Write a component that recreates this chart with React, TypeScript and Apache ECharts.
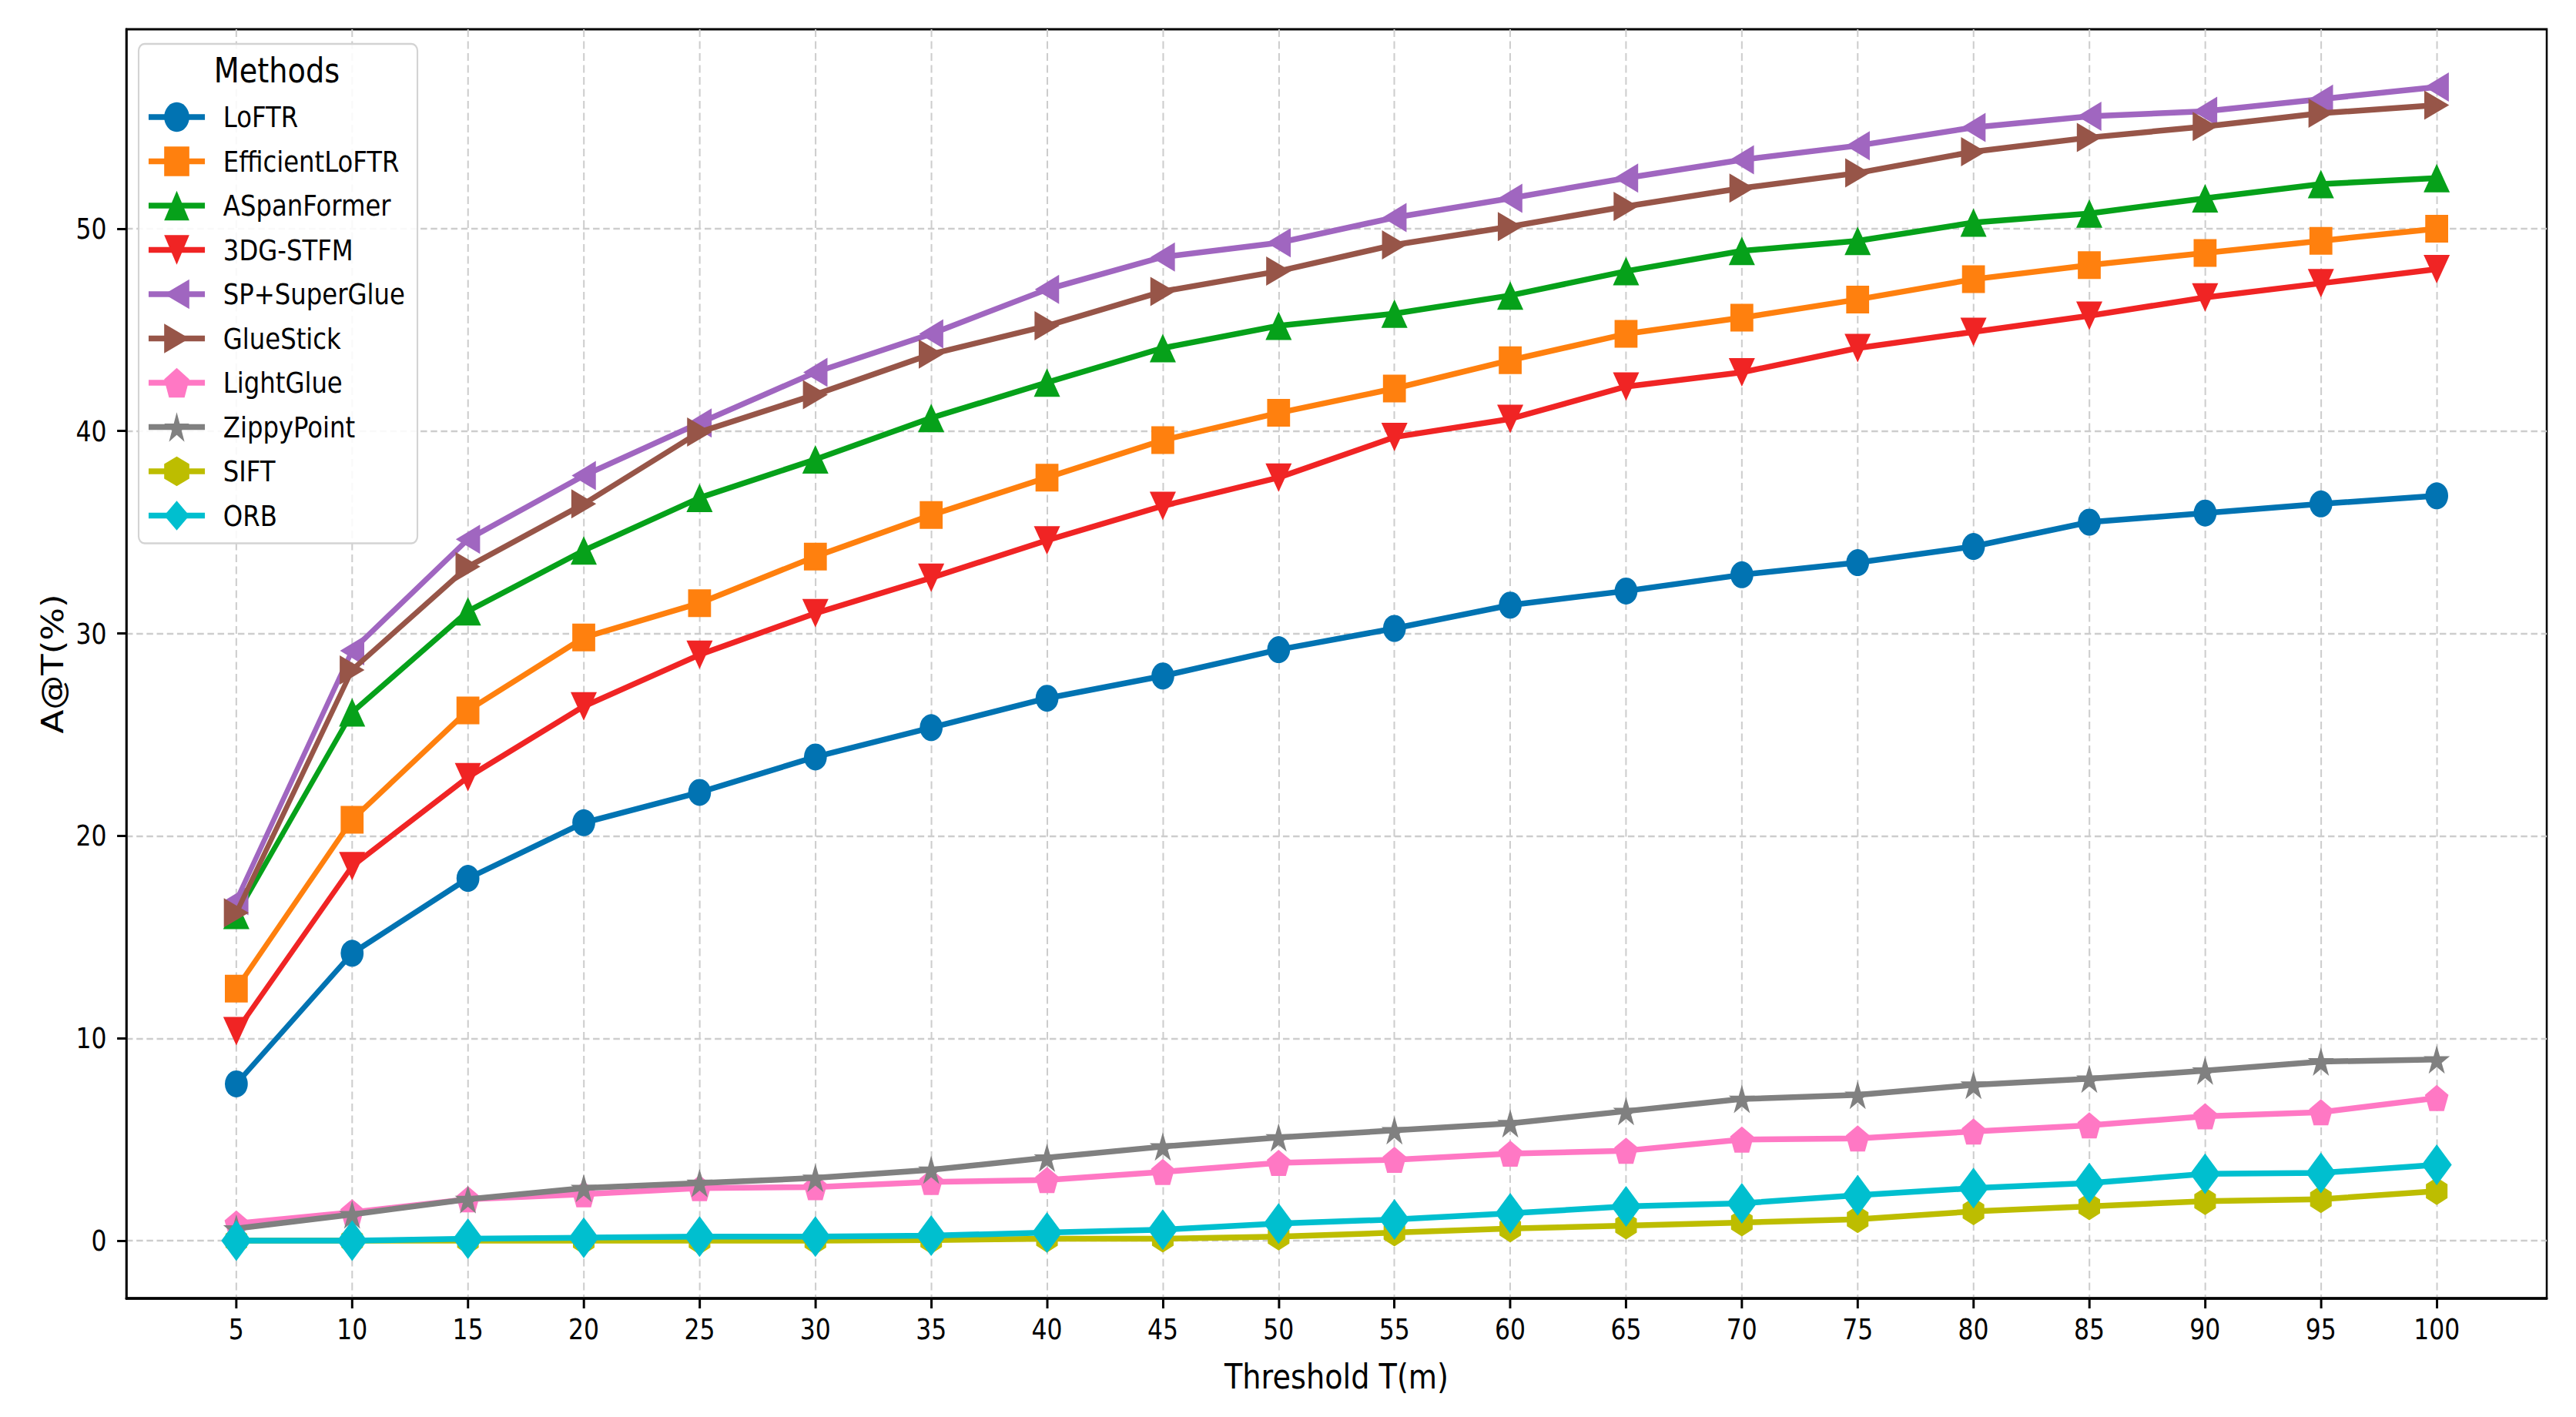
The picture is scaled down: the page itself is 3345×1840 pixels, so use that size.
import React, { useEffect, useRef } from "react";
import * as echarts from "echarts";

// ---------- data ----------
const thresholds = [5, 10, 15, 20, 25, 30, 35, 40, 45, 50, 55, 60, 65, 70, 75, 80, 85, 90, 95, 100];
const yTickValues = [0, 10, 20, 30, 40, 50];

const loftr = [7.75, 14.2, 17.9, 20.65, 22.15, 23.9, 25.35, 26.8, 27.9, 29.2, 30.25, 31.4, 32.1, 32.9, 33.5, 34.3, 35.5, 35.95, 36.4, 36.8];
const efficientLoftr = [12.45, 20.8, 26.2, 29.8, 31.5, 33.8, 35.85, 37.7, 39.55, 40.9, 42.1, 43.5, 44.8, 45.6, 46.5, 47.5, 48.2, 48.8, 49.4, 50.0];
const aspanFormer = [16.1, 26.1, 31.1, 34.1, 36.7, 38.6, 40.65, 42.4, 44.1, 45.2, 45.8, 46.7, 47.9, 48.9, 49.4, 50.3, 50.75, 51.5, 52.2, 52.5];
const stfm3dg = [10.35, 18.5, 22.9, 26.4, 28.95, 31.0, 32.75, 34.6, 36.3, 37.7, 39.7, 40.6, 42.2, 42.9, 44.1, 44.9, 45.7, 46.6, 47.3, 48.0];
const spSuperGlue = [16.8, 29.15, 34.65, 37.8, 40.4, 42.9, 44.8, 47.0, 48.6, 49.3, 50.55, 51.5, 52.5, 53.4, 54.1, 55.0, 55.55, 55.8, 56.4, 57.0];
const glueStick = [16.2, 28.2, 33.3, 36.4, 39.95, 41.8, 43.8, 45.2, 46.9, 47.9, 49.2, 50.1, 51.1, 52.0, 52.75, 53.8, 54.5, 55.05, 55.7, 56.1];
const lightGlue = [0.85, 1.4, 2.05, 2.3, 2.6, 2.65, 2.9, 3.0, 3.4, 3.85, 4.0, 4.3, 4.45, 5.0, 5.05, 5.4, 5.7, 6.15, 6.35, 7.05];
const zippyPoint = [0.6, 1.3, 2.05, 2.6, 2.85, 3.1, 3.5, 4.1, 4.65, 5.1, 5.45, 5.8, 6.4, 7.0, 7.2, 7.7, 8.0, 8.4, 8.85, 8.95];
const sift = [0, 0, 0, 0, 0, 0, 0.03, 0.1, 0.1, 0.2, 0.4, 0.6, 0.75, 0.9, 1.06, 1.45, 1.7, 1.95, 2.05, 2.45];
const orb = [0, 0, 0.1, 0.15, 0.2, 0.2, 0.25, 0.4, 0.55, 0.85, 1.05, 1.35, 1.7, 1.85, 2.25, 2.6, 2.85, 3.3, 3.35, 3.75];

const legendTitle = "Methods";
const xName = "Threshold T(m)";
const yName = "A@T(%)";

// ---------- marker shapes ----------
const TRI_UP = "path://M0,0L1,2L-1,2Z";
const TRI_DOWN = "path://M-1,0L1,0L0,2Z";
const TRI_LEFT = "path://M0,1L2,0L2,2Z";
const TRI_RIGHT = "path://M0,0L2,1L0,2Z";
const PENTAGON = "path://M0,-1L-0.951,-0.309L-0.588,0.809L0.588,0.809L0.951,-0.309Z";
const STAR =
  "path://M0,-1L-0.2245,-0.309L-0.951,-0.309L-0.363,0.118L-0.588,0.809L0,0.382L0.588,0.809L0.363,0.118L0.951,-0.309L0.2245,-0.309Z";
const HEXAGON = "path://M0,-1L-0.866,-0.5L-0.866,0.5L0,1L0.866,0.5L0.866,-0.5Z";

// ---------- layout (drawing is squeezed horizontally, like the reference) ----------
const SX = 0.85;
const OUT_W = 3345;
const OUT_H = 1840;
const W = OUT_W / SX;
const FONT = "DejaVu Sans";
const LINE_W = 7.5;

const seriesDefs = [
  { name: "LoFTR", values: loftr, color: "#0173b2", symbol: "circle", size: [35, 35] },
  { name: "EfficientLoFTR", values: efficientLoftr, color: "#ff800e", symbol: "rect", size: [35, 36] },
  { name: "ASpanFormer", values: aspanFormer, color: "#06a11a", symbol: TRI_UP, size: [40, 37] },
  { name: "3DG-STFM", values: stfm3dg, color: "#f02424", symbol: TRI_DOWN, size: [40, 37] },
  { name: "SP+SuperGlue", values: spSuperGlue, color: "#a066c0", symbol: TRI_LEFT, size: [37, 38] },
  { name: "GlueStick", values: glueStick, color: "#975548", symbol: TRI_RIGHT, size: [38, 38] },
  { name: "LightGlue", values: lightGlue, color: "#ff78c4", symbol: PENTAGON, size: [36, 34] },
  { name: "ZippyPoint", values: zippyPoint, color: "#808080", symbol: STAR, size: [40, 37] },
  { name: "SIFT", values: sift, color: "#bdbd00", symbol: HEXAGON, size: [33, 36] },
  { name: "ORB", values: orb, color: "#00bfcf", symbol: "diamond", size: [46, 53] },
];

function buildOption(): any {
  const series = seriesDefs.map((d, i) => ({
    type: "line",
    name: d.name,
    data: thresholds.map((t, k) => [t, d.values[k]]),
    symbol: d.symbol,
    symbolSize: d.size,
    showAllSymbol: true,
    z: 10 + i,
    silent: true,
    lineStyle: { color: d.color, width: LINE_W },
    itemStyle: { color: d.color, borderWidth: 0 },
    emphasis: { disabled: true },
  }));

  return {
    animation: false,
    backgroundColor: "#ffffff",
    textStyle: { fontFamily: FONT },
    grid: {
      left: 164 / SX,
      right: 38 / SX,
      top: 38,
      bottom: 154,
      show: true,
      borderColor: "#000000",
      borderWidth: 3,
      containLabel: false,
      outerBoundsMode: "none",
    },
    xAxis: {
      type: "value",
      min: 0.25,
      max: 104.75,
      splitNumber: 20,
      name: xName,
      nameLocation: "middle",
      nameGap: 79,
      nameTextStyle: { fontFamily: FONT, fontSize: 45, color: "#000" },
      axisLine: { show: true, onZero: false, lineStyle: { color: "#000", width: 3.5 } },
      axisTick: {
        show: true,
        length: 13,
        customValues: thresholds,
        lineStyle: { color: "#000", width: 3.5 },
      },
      axisLabel: {
        show: true,
        customValues: thresholds,
        margin: 22,
        fontFamily: FONT,
        fontSize: 37,
        color: "#000",
      },
      splitLine: {
        show: true,
        lineStyle: { color: "#cdcdcd", width: 2.4, type: [10, 5.5] },
      },
    },
    yAxis: {
      type: "value",
      min: -2.85,
      max: 59.85,
      splitNumber: 5,
      name: yName,
      nameLocation: "middle",
      nameRotate: 90,
      nameGap: 90,
      nameTextStyle: { fontFamily: FONT, fontSize: 45, color: "#000" },
      axisLine: { show: true, onZero: false, lineStyle: { color: "#000", width: 3 } },
      axisTick: {
        show: true,
        length: 14,
        customValues: yTickValues,
        lineStyle: { color: "#000", width: 3 },
      },
      axisLabel: {
        show: true,
        customValues: yTickValues,
        margin: 30,
        fontFamily: FONT,
        fontSize: 37,
        color: "#000",
      },
      splitLine: {
        show: true,
        lineStyle: { color: "#cdcdcd", width: 2.4, type: [10, 5.5] },
      },
    },
    legend: {
      show: true,
      orient: "vertical",
      left: 180 / SX,
      top: 57,
      padding: [75.8, 19, 16.8, 11.5],
      itemWidth: 86,
      itemHeight: 48,
      itemGap: 19.1,
      selectedMode: false,
      backgroundColor: "rgba(255,255,255,0.88)",
      borderColor: "#d3d3d3",
      borderWidth: 2.5,
      borderRadius: 9,
      z: 100,
      lineStyle: { width: LINE_W },
      textStyle: { fontFamily: FONT, fontSize: 38, color: "#000", padding: [0, 0, 0, 23] },
      data: seriesDefs.map((d) => d.name),
    },
    graphic: [
      {
        type: "text",
        x: ((180 + 539) / 2) / SX,
        y: 91,
        z: 101,
        silent: true,
        style: {
          text: legendTitle,
          fontFamily: FONT,
          fontSize: 45,
          fill: "#000",
          align: "center",
          verticalAlign: "middle",
        },
      },
    ],
    series,
  };
}

export default function App() {
  const ref = useRef<HTMLDivElement>(null);
  useEffect(() => {
    document.body.style.margin = "0";
    document.body.style.overflow = "hidden";
    if (!ref.current) return;
    const chart = echarts.init(ref.current, null, { renderer: "svg", width: W, height: OUT_H });
    chart.setOption(buildOption());
    return () => {
      chart.dispose();
    };
  }, []);
  return (
    <div style={{ width: OUT_W, height: OUT_H, overflow: "hidden", background: "#fff", position: "relative" }}>
      <div
        ref={ref}
        style={{
          width: W,
          height: OUT_H,
          transform: `scaleX(${SX})`,
          transformOrigin: "0 0",
          position: "absolute",
          left: 0,
          top: 0,
        }}
      />
    </div>
  );
}
